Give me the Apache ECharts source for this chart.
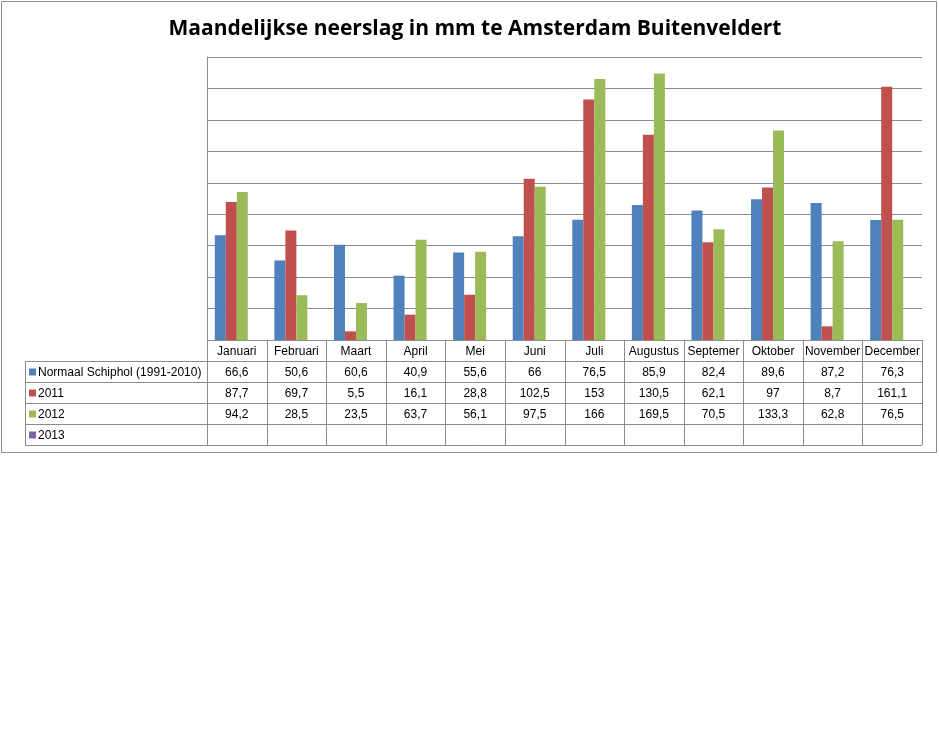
<!DOCTYPE html>
<html><head><meta charset="utf-8">
<script src="https://cdn.jsdelivr.net/npm/echarts@6/dist/echarts.min.js"></script>
<style>body{margin:0;background:#fff}#c{width:939px;height:733px}</style>
</head><body><div id="c"></div>
<script>
var months = ['Januari','Februari','Maart','April','Mei','Juni','Juli','Augustus','Septemer','Oktober','November','December'];
var seriesNames = ['Normaal Schiphol (1991-2010)','2011','2012','2013'];
var normaal = [66.6,50.6,60.6,40.9,55.6,66,76.5,85.9,82.4,89.6,87.2,76.3];
var y2011 = [87.7,69.7,5.5,16.1,28.8,102.5,153,130.5,62.1,97,8.7,161.1];
var y2012 = [94.2,28.5,23.5,63.7,56.1,97.5,166,169.5,70.5,133.3,62.8,76.5];
var y2013 = [];
var colors = ['#4F81BD','#C0504D','#9BBB59','#8064A2'];

var chart = echarts.init(document.getElementById('c'));
var L = 207, R = 922, T = 57, B = 340, rowH = 21, tabL = 25;
var colW = (R - L) / 12;
var allData = [normaal, y2011, y2012, y2013];
var g = [];
var line = {stroke:'#8c8c8c', lineWidth:1};
// outer border
g.push({type:'rect', shape:{x:1.5,y:1.5,width:935,height:451}, style:{fill:null, stroke:'#8c8c8c', lineWidth:1}, silent:true});
// horizontal table lines
g.push({type:'line', shape:{x1:L,y1:B+0.5,x2:R,y2:B+0.5}, style:line});
for (var r = 1; r <= 5; r++) {
  g.push({type:'line', shape:{x1:tabL,y1:B+r*rowH+0.5,x2:R,y2:B+r*rowH+0.5}, style:line});
}
g.push({type:'line', shape:{x1:tabL+0.5,y1:B+rowH,x2:tabL+0.5,y2:B+5*rowH}, style:line});
for (var c = 0; c <= 12; c++) {
  var x = Math.round(L + c*colW) + 0.5;
  g.push({type:'line', shape:{x1:x,y1:B,x2:x,y2:B+5*rowH}, style:line});
}
months.forEach(function(m, i){
  g.push({type:'text', style:{text:m, x:L+(i+0.5)*colW, y:B+rowH/2+1, align:'center', verticalAlign:'middle', font:'12px "Liberation Sans", Arial', fill:'#000'}});
});
seriesNames.forEach(function(n, s){
  var yc = B + (s+1.5)*rowH + 1;
  g.push({type:'rect', shape:{x:tabL+4,y:yc-4,width:7,height:7}, style:{fill:colors[s]}});
  g.push({type:'text', style:{text:n, x:tabL+13, y:yc, verticalAlign:'middle', font:'12px "Liberation Sans", Arial', fill:'#000'}});
  allData[s].forEach(function(v, i){
    g.push({type:'text', style:{text:String(v).replace('.',','), x:L+(i+0.5)*colW, y:yc, align:'center', verticalAlign:'middle', font:'12px "Liberation Sans", Arial', fill:'#000'}});
  });
});

chart.setOption({
  animation:false,
  title:{text:'Maandelijkse neerslag in mm te Amsterdam Buitenveldert', left:470, top:14, textAlign:'center',
    textStyle:{fontSize:21, fontWeight:'bold', fontFamily:'"Open Sans", Arial', color:'#000'}},
  grid:{left:L, right:939-R, top:T, bottom:733-B},
  xAxis:{type:'category', data:months, axisLabel:{show:false}, axisTick:{show:false},
    axisLine:{show:false}},
  yAxis:{type:'value', min:0, max:180, interval:20, axisLabel:{show:false},
    axisLine:{show:true, lineStyle:{color:'#8c8c8c'}}, axisTick:{show:false},
    splitLine:{lineStyle:{color:'#8c8c8c'}}},
  series: seriesNames.map(function(n, s){
    return {name:n, type:'bar', data:allData[s], barWidth:11, barGap:'0%', itemStyle:{color:colors[s]}};
  }),
  graphic:g
});
</script></body></html>
